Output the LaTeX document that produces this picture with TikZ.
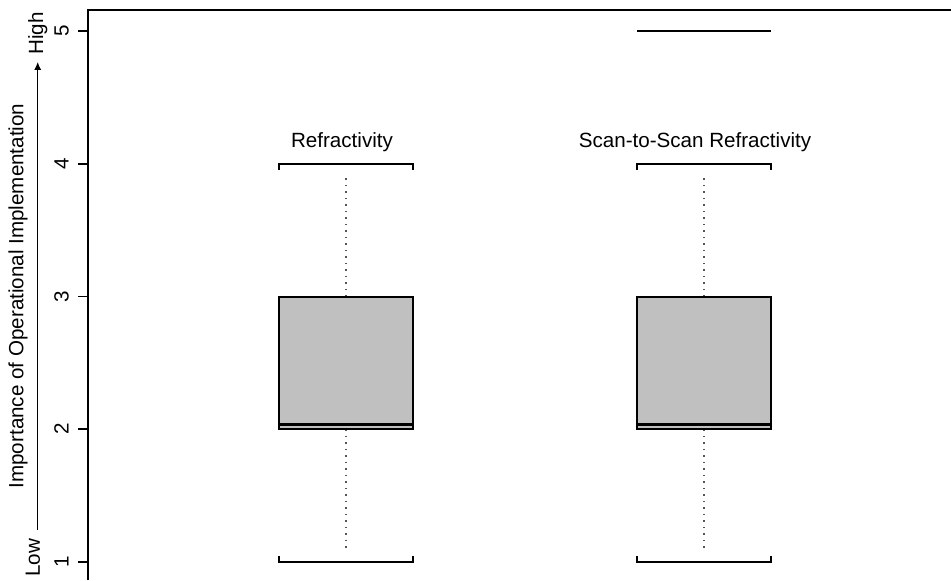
\documentclass[tikz,border=0pt]{standalone}
\usepackage{xcolor}
\usepackage{fontspec}
\setmainfont{Liberation Sans}
\usepackage{tikz}
\usetikzlibrary{arrows,arrows.meta,positioning,calc}
\definecolor{boxgray}{HTML}{C0C0C0}
\definecolor{dotgray}{HTML}{555555}

\begin{document}
\begin{tikzpicture}[x=0.5pt,y=66.375pt,
  lbl/.style={font=\fontsize{10.3}{12}\selectfont,inner sep=0pt},
  boxbody/.style={fill=boxgray,draw=black,line width=1pt},
  medline/.style={line width=1.3pt},
  whisk/.style={dotgray,line width=0.75pt,dash pattern=on 0.75pt off 2.5pt},
  capline/.style={line width=1pt}]
\useasboundingbox (0,0.86441) rectangle (951,5.23352);

% Frame and y axis
\draw[line width=1pt] (88,0.86441) -- (88,5.1582) -- (951,5.1582);
\foreach \v in {1,...,5} {
    \draw[line width=0.8pt] (78,\v) -- (88,\v);
    \node[lbl,rotate=90,anchor=base] (tick\v) at (68.5,\v) {\v};
}

% Axis title with Low -> High arrow
\node[lbl,rotate=90,anchor=base] (ytitle) at (23.5,3.0038) {Importance of Operational Implementation};
\node[lbl,rotate=90,anchor=base west] (low) at (40,0.887) {Low};
\node[lbl,rotate=90,anchor=base west] (high) at (43,4.819) {High};
\coordinate (arrlow) at (37.7,1.2411);
\coordinate (arrhigh) at (37.7,4.7665);
\draw[line width=0.55pt,-{Latex[length=4pt,width=3.6pt]}] (arrlow) -- (arrhigh);

% Boxes
\foreach \c in {346,704} {
    \draw[whisk] (\c,3) -- (\c,3.93);
    \draw[whisk] (\c,2) -- (\c,1.08);
    \filldraw[boxbody] (\c-67,2) rectangle (\c+67,3);
    \draw[medline] (\c-67,2.035) -- (\c+67,2.035);
    \draw[capline] (\c-67,3.955) -- (\c-67,4) -- (\c+67,4) -- (\c+67,3.955);
    \draw[capline] (\c-67,1.045) -- (\c-67,1) -- (\c+67,1) -- (\c+67,1.045);
}
\draw[capline] (637,5) -- (771,5);

% Labels
\node[lbl,anchor=base] (refr) at (342,4.121) {Refractivity};
\node[lbl,anchor=base] (scan) at (695,4.121) {Scan-to-Scan Refractivity};
\end{tikzpicture}
\end{document}
